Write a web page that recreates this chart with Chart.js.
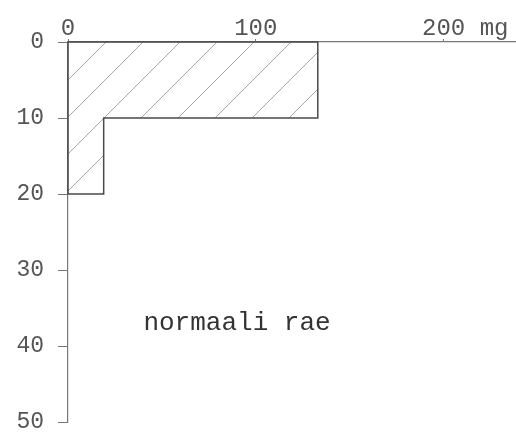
<!DOCTYPE html>
<html>
<head>
<meta charset="utf-8">
<script src="https://cdn.jsdelivr.net/npm/chart.js@4/dist/chart.umd.min.js"></script>
<style>
  html, body { margin: 0; padding: 0; background: #fff; }
  #wrap { width: 516px; height: 437px; }
</style>
</head>
<body>
<div id="wrap"><canvas id="rae"></canvas></div>
<script>
// layers (depth, cm) and amount in each layer (mg)
var layerTop = [0, 10];
var layerBottom = [10, 20];
var amount = [133, 19];
var xTicks = [0, 100, 200];
var yTicks = [0, 10, 20, 30, 40, 50];
var noteText = 'normaali rae';

var typeFont = '"Liberation Mono", "DejaVu Sans Mono", monospace';
var ink = '#555';

// closed step outline built from the layers
function buildOutline() {
    var pts = [{x: 0, y: layerTop[0]}];
    for (var i = 0; i < amount.length; i++) {
        pts.push({x: amount[i], y: layerTop[i]});
        pts.push({x: amount[i], y: layerBottom[i]});
    }
    pts.push({x: 0, y: layerBottom[layerBottom.length - 1]});
    pts.push({x: 0, y: layerTop[0]});
    return pts;
}

// diagonal hatch like the pen drawing
function hatch() {
    var s = 37;
    var c = document.createElement('canvas');
    c.width = s; c.height = s;
    var g = c.getContext('2d');
    g.strokeStyle = 'rgba(120,120,120,0.65)';
    g.lineWidth = 1;
    g.beginPath();
    g.moveTo(0, s); g.lineTo(s, 0);
    g.moveTo(-2, 2); g.lineTo(2, -2);
    g.moveTo(s - 2, s + 2); g.lineTo(s + 2, s - 2);
    g.stroke();
    return g.createPattern(c, 'repeat');
}

var notePlugin = {
    id: 'note',
    afterDatasetsDraw: function(chart) {
        var c = chart.ctx;
        var xs = chart.scales.x, ys = chart.scales.y;
        c.save();
        c.font = '26px ' + typeFont;
        c.fillStyle = '#333';
        c.textAlign = 'center';
        c.textBaseline = 'middle';
        c.fillText(noteText, xs.getPixelForValue(90), ys.getPixelForValue(37));
        c.restore();
    }
};

var ctx = document.getElementById('rae').getContext('2d');
var chart = new Chart(ctx, {
    type: 'line',
    data: {
        datasets: [{
            data: buildOutline(),
            borderColor: '#4a4a4a',
            borderWidth: 1.5,
            backgroundColor: hatch(),
            fill: 'shape',
            pointRadius: 0,
            tension: 0,
            clip: false
        }]
    },
    plugins: [notePlugin],
    options: {
        responsive: true,
        maintainAspectRatio: false,
        animation: false,
        layout: { padding: { top: 0, right: 1, bottom: 15, left: 0 } },
        plugins: { legend: { display: false }, tooltip: { enabled: false } },
        scales: {
            x: {
                type: 'linear',
                position: 'top',
                min: 0,
                max: 238,
                afterBuildTicks: function(s) { s.ticks = xTicks.map(function(v) { return {value: v}; }); },
                afterFit: function(s) { s.height = 42; s.paddingLeft = 0; s.paddingRight = 0; },
                border: { color: '#777', width: 1.2, dash: [7, 2] },
                grid: { drawOnChartArea: false, drawTicks: true, tickLength: 3, color: '#777' },
                ticks: {
                    padding: -4,
                    color: ink,
                    font: { family: typeFont, size: 24 },
                    maxRotation: 0,
                    callback: function(v) { return v === 200 ? '   200 mg' : String(v); }
                }
            },
            y: {
                type: 'linear',
                reverse: true,
                min: 0,
                max: 50,
                afterBuildTicks: function(s) { s.ticks = yTicks.map(function(v) { return {value: v}; }); },
                afterFit: function(s) { s.width = 68; s.paddingTop = 0; s.paddingBottom = 0; },
                border: { color: '#777', width: 1.2, dash: [8, 2] },
                grid: { drawOnChartArea: false, drawTicks: true, tickLength: 10, color: '#777' },
                ticks: {
                    padding: 14,
                    color: ink,
                    font: { family: typeFont, size: 23 }
                }
            }
        }
    }
});
</script>
</body>
</html>
